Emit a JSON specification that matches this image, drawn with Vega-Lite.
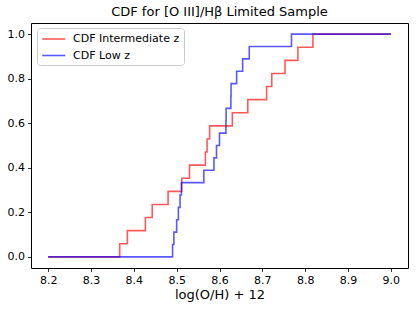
{
  "$schema": "https://vega.github.io/schema/vega-lite/v6.json",
  "width": 377,
  "height": 245,
  "autosize": {"type": "none"},
  "padding": {"left": 31, "top": 23, "right": 8, "bottom": 41},
  "title": {"text": "CDF for [O III]/Hβ Limited Sample", "fontSize": 13, "font": "DejaVu Sans", "fontWeight": "normal", "color": "black", "offset": 4, "anchor": "middle"},
  "config": {"view": {"stroke": "black", "strokeWidth": 1}, "font": "DejaVu Sans"},
  "data": {"values": [
    {"s": "CDF Intermediate z", "i": 0, "x": 8.2, "y": 0},
    {"s": "CDF Intermediate z", "i": 1, "x": 8.367, "y": 0.0588},
    {"s": "CDF Intermediate z", "i": 2, "x": 8.385, "y": 0.1176},
    {"s": "CDF Intermediate z", "i": 3, "x": 8.427, "y": 0.1765},
    {"s": "CDF Intermediate z", "i": 4, "x": 8.443, "y": 0.2353},
    {"s": "CDF Intermediate z", "i": 5, "x": 8.48, "y": 0.2941},
    {"s": "CDF Intermediate z", "i": 6, "x": 8.512, "y": 0.3529},
    {"s": "CDF Intermediate z", "i": 7, "x": 8.53, "y": 0.4118},
    {"s": "CDF Intermediate z", "i": 8, "x": 8.567, "y": 0.4706},
    {"s": "CDF Intermediate z", "i": 9, "x": 8.571, "y": 0.5294},
    {"s": "CDF Intermediate z", "i": 10, "x": 8.577, "y": 0.5882},
    {"s": "CDF Intermediate z", "i": 11, "x": 8.63, "y": 0.6471},
    {"s": "CDF Intermediate z", "i": 12, "x": 8.666, "y": 0.7059},
    {"s": "CDF Intermediate z", "i": 13, "x": 8.71, "y": 0.7647},
    {"s": "CDF Intermediate z", "i": 14, "x": 8.722, "y": 0.8235},
    {"s": "CDF Intermediate z", "i": 15, "x": 8.753, "y": 0.8824},
    {"s": "CDF Intermediate z", "i": 16, "x": 8.783, "y": 0.9412},
    {"s": "CDF Intermediate z", "i": 17, "x": 8.818, "y": 1},
    {"s": "CDF Intermediate z", "i": 18, "x": 9.0, "y": 1},
    {"s": "CDF Low z", "i": 0, "x": 8.2, "y": 0},
    {"s": "CDF Low z", "i": 1, "x": 8.4905, "y": 0.0556},
    {"s": "CDF Low z", "i": 2, "x": 8.4935, "y": 0.1111},
    {"s": "CDF Low z", "i": 3, "x": 8.5, "y": 0.1667},
    {"s": "CDF Low z", "i": 4, "x": 8.504, "y": 0.2222},
    {"s": "CDF Low z", "i": 5, "x": 8.508, "y": 0.2778},
    {"s": "CDF Low z", "i": 6, "x": 8.511, "y": 0.3333},
    {"s": "CDF Low z", "i": 7, "x": 8.5635, "y": 0.3889},
    {"s": "CDF Low z", "i": 8, "x": 8.587, "y": 0.4444},
    {"s": "CDF Low z", "i": 9, "x": 8.593, "y": 0.5},
    {"s": "CDF Low z", "i": 10, "x": 8.6, "y": 0.5556},
    {"s": "CDF Low z", "i": 11, "x": 8.615, "y": 0.6111},
    {"s": "CDF Low z", "i": 12, "x": 8.6155, "y": 0.6667},
    {"s": "CDF Low z", "i": 13, "x": 8.6265, "y": 0.7222},
    {"s": "CDF Low z", "i": 14, "x": 8.627, "y": 0.7778},
    {"s": "CDF Low z", "i": 15, "x": 8.64, "y": 0.8333},
    {"s": "CDF Low z", "i": 16, "x": 8.654, "y": 0.8889},
    {"s": "CDF Low z", "i": 17, "x": 8.6695, "y": 0.9444},
    {"s": "CDF Low z", "i": 18, "x": 8.768, "y": 1},
    {"s": "CDF Low z", "i": 19, "x": 9.0, "y": 1}
  ]},
  "mark": {"type": "line", "interpolate": "step-after", "strokeWidth": 1.6, "opacity": 0.65},
  "encoding": {
    "x": {
      "field": "x", "type": "quantitative",
      "scale": {"domain": [8.16, 9.04], "nice": false, "zero": false},
      "axis": {"values": [8.2, 8.3, 8.4, 8.5, 8.6, 8.7, 8.8, 8.9, 9.0], "format": ".1f", "grid": false, "domain": false, "tickSize": 3.5, "tickColor": "black", "tickWidth": 0.8, "labelFont": "DejaVu Sans", "labelFontSize": 11, "labelColor": "black", "labelPadding": 3, "labelFlush": false, "title": "log(O/H) + 12", "titleFont": "DejaVu Sans", "titleFontSize": 13, "titleFontWeight": "normal", "titleColor": "black", "titlePadding": 3}
    },
    "y": {
      "field": "y", "type": "quantitative",
      "scale": {"domain": [-0.05, 1.05], "nice": false, "zero": false},
      "axis": {"values": [0, 0.2, 0.4, 0.6, 0.8, 1.0], "format": ".1f", "grid": false, "domain": false, "tickSize": 3.5, "tickColor": "black", "tickWidth": 0.8, "labelFont": "DejaVu Sans", "labelFontSize": 11, "labelColor": "black", "labelPadding": 3, "labelFlush": false, "title": null}
    },
    "color": {
      "field": "s", "type": "nominal",
      "scale": {"domain": ["CDF Intermediate z", "CDF Low z"], "range": ["red", "blue"]},
      "legend": {"title": null, "orient": "none", "legendX": 6, "legendY": 5, "symbolType": "M-1,0H3", "symbolSize": 132, "symbolStrokeWidth": 1.6, "symbolOpacity": 0.65, "labelFont": "DejaVu Sans", "labelFontSize": 11, "labelColor": "black", "labelOffset": 18, "strokeColor": "#cccccc", "fillColor": "white", "cornerRadius": 3, "padding": 4, "rowPadding": 4.5}
    },
    "order": {"field": "i", "type": "quantitative"}
  }
}
